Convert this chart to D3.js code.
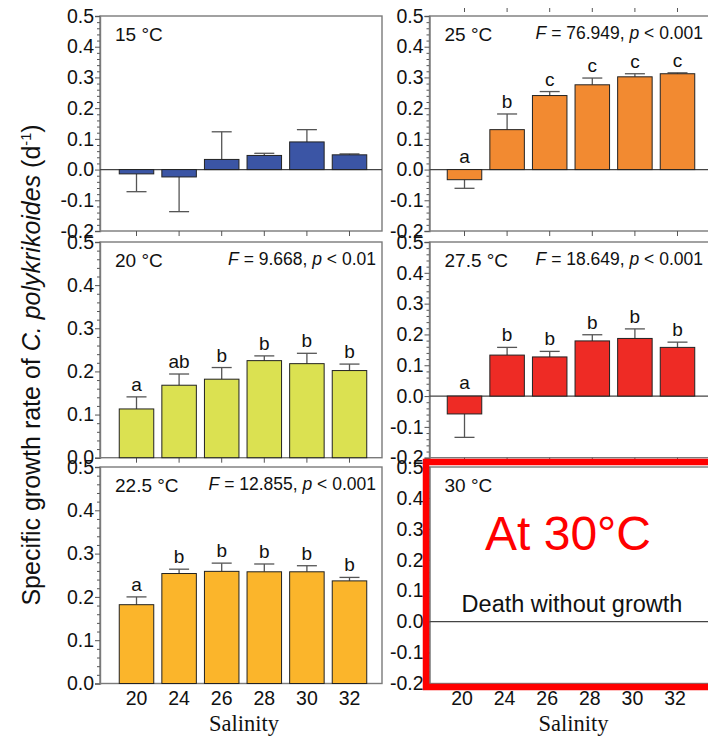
<!DOCTYPE html>
<html><head><meta charset="utf-8">
<script src="https://cdn.jsdelivr.net/npm/d3@7"></script>
<style>
body{margin:0;background:#fff}
svg{display:block}
text{font-family:"Liberation Sans",Arial,sans-serif;fill:#111}
</style>
</head><body><svg id="c" width="708" height="738"></svg>
<script>
// ---------- data ----------
const salinity = ["20","24","26","28","30","32"];
const mean15   = [-0.014,-0.024,0.033,0.046,0.090,0.048];
const err15    = [0.058,0.113,0.090,0.007,0.040,0.003];
const mean20   = [0.113,0.168,0.182,0.225,0.218,0.202];
const err20    = [0.028,0.026,0.027,0.011,0.024,0.015];
const let20    = ["a","ab","b","b","b","b"];
const mean22_5 = [0.182,0.254,0.259,0.258,0.258,0.237];
const err22_5  = [0.018,0.010,0.019,0.018,0.014,0.008];
const let22_5  = ["a","b","b","b","b","b"];
const mean25   = [-0.033,0.130,0.241,0.276,0.302,0.312];
const err25    = [0.028,0.051,0.013,0.022,0.010,0.003];
const let25    = ["a","b","c","c","c","c"];
const mean27_5 = [-0.058,0.133,0.127,0.179,0.187,0.158];
const err27_5  = [0.076,0.025,0.018,0.020,0.031,0.017];
const let27_5  = ["a","b","b","b","b","b"];
const ticksFull = [-0.2,-0.1,0.0,0.1,0.2,0.3,0.4,0.5];
const ticksPos  = [0.0,0.1,0.2,0.3,0.4,0.5];

const panels = [
  {col:0,row:0,dom:[-0.2,0.5],ticks:ticksFull,label:"15 °C",stat:null,color:"#3b55a5",mean:mean15,err:err15,letters:null},
  {col:1,row:0,dom:[-0.2,0.5],ticks:ticksFull,label:"25 °C",stat:["76.949","0.001"],color:"#f28a31",mean:mean25,err:err25,letters:let25},
  {col:0,row:1,dom:[0,0.5],ticks:ticksPos,label:"20 °C",stat:["9.668","0.01"],color:"#dbe151",mean:mean20,err:err20,letters:let20},
  {col:1,row:1,dom:[-0.2,0.5],ticks:ticksFull,label:"27.5 °C",stat:["18.649","0.001"],color:"#ee2b25",mean:mean27_5,err:err27_5,letters:let27_5},
  {col:0,row:2,dom:[0,0.5],ticks:ticksPos,label:"22.5 °C",stat:["12.855","0.001"],color:"#fbb52b",mean:mean22_5,err:err22_5,letters:let22_5},
  {col:1,row:2,dom:[-0.2,0.5],ticks:ticksFull,label:"30 °C",stat:null,color:null,mean:null,err:null,letters:null}
];

// ---------- layout ----------
const colX = [[100,382],[429.5,711.5]];
const bandX = [[102,384],[430,712]];
const rowY = [[16,231],[242,457.7],[467,683.5]];
const frameCol = "#7a7a7a";
const SANS = "'Liberation Sans', Arial, sans-serif";

const svg = d3.select("#c");

panels.forEach(p=>{
  const [x0,x1] = colX[p.col];
  const [y0,y1] = rowY[p.row];
  const g = svg.append("g");
  const br = (p.col===1 && p.row===2) ? [bandX[1][0]-2.5, bandX[1][1]-2.5] : bandX[p.col];
  const x = d3.scaleBand().domain(salinity).range(br).paddingInner(0.19).paddingOuter(0.405);
  const y = d3.scaleLinear().domain(p.dom).range([y1,y0]);

  g.append("rect").attr("x",x0).attr("y",y0).attr("width",x1-x0).attr("height",y1-y0)
    .attr("fill","#fff").attr("stroke",frameCol).attr("stroke-width",1.4);

  // minor ticks
  const minor = d3.range(Math.round(p.dom[0]*50), Math.round(p.dom[1]*50)+1).map(d=>d/50).filter(d=>Math.abs(Math.round(d*10)-d*10)>1e-6);
  g.append("g").attr("transform",`translate(${x0},0)`)
    .call(d3.axisLeft(y).tickValues(minor).tickSize(3).tickFormat(""))
    .call(a=>a.select(".domain").remove())
    .selectAll("line").attr("stroke","#555");
  // major ticks
  const ya = g.append("g").attr("transform",`translate(${x0},0)`)
    .call(d3.axisLeft(y).tickValues(p.ticks).tickSize(5).tickPadding(1).tickFormat(d=>d.toFixed(1)));
  ya.select(".domain").attr("stroke",frameCol).attr("stroke-width",1.4);
  ya.selectAll("line").attr("stroke","#555");
  ya.selectAll("text").attr("font-size",19.5).style("fill","#111").style("font-family",SANS);

  // x ticks
  const xa = g.append("g").attr("transform",`translate(0,${y1})`);
  if(p.row<2){
    xa.call(d3.axisBottom(x).tickSize(5).tickFormat(""));
    xa.select(".domain").remove();
    xa.selectAll("line").attr("stroke","#555");
  } else {
    xa.call(d3.axisBottom(x).tickSize(0).tickPadding(8));
    xa.select(".domain").remove();
    xa.selectAll("text").attr("font-size",19.5).style("fill","#111").style("font-family",SANS);
    g.append("text").attr("x",(x0+x1)/2+3).attr("y",731).attr("text-anchor","middle")
      .style("font-family","'Liberation Serif','Times New Roman',serif").attr("font-size",22.5).text("Salinity");
  }

  // zero line
  if(p.dom[0]<0){
    g.append("line").attr("x1",x0).attr("x2",x1).attr("y1",y(0)).attr("y2",y(0))
      .attr("stroke","#444").attr("stroke-width",1.2);
  }

  if(p.mean){
    const data = salinity.map((s,i)=>({s,v:p.mean[i],e:p.err[i],l:p.letters?p.letters[i]:null}));
    // error bars
    const eg = g.append("g").attr("stroke","#555").attr("stroke-width",1.3);
    data.forEach(d=>{
      const cx = x(d.s)+x.bandwidth()/2;
      const end = d.v>=0 ? d.v+d.e : d.v-d.e;
      eg.append("line").attr("x1",cx).attr("x2",cx).attr("y1",y(d.v)).attr("y2",y(end));
      eg.append("line").attr("x1",cx-10).attr("x2",cx+10).attr("y1",y(end)).attr("y2",y(end));
    });
    g.append("g").selectAll("rect").data(data).join("rect")
      .attr("x",d=>x(d.s)).attr("width",x.bandwidth())
      .attr("y",d=>y(Math.max(0,d.v))).attr("height",d=>Math.abs(y(d.v)-y(0)))
      .attr("fill",p.color).attr("stroke","#222").attr("stroke-width",1);
    if(p.letters){
      g.append("g").selectAll("text").data(data).join("text")
        .attr("x",d=>x(d.s)+x.bandwidth()/2)
        .attr("y",d=> d.v>=0 ? y(d.v+d.e)-6 : y(0)-7)
        .attr("text-anchor","middle").attr("font-size",19).text(d=>d.l);
    }
  }

  // panel label
  g.append("text").attr("x",x0+15).attr("y",y0+25).attr("font-size",19).text(p.label);
  if(p.stat){
    const t = g.append("text").attr("x",(p.col===0?x1-6:703)).attr("y",y0+23).attr("text-anchor","end").attr("font-size",17.5);
    t.append("tspan").style("font-style","italic").text("F");
    t.append("tspan").text(" = "+p.stat[0]+", ");
    t.append("tspan").style("font-style","italic").text("p");
    t.append("tspan").text(" < "+p.stat[1]);
  }

  // 30 °C special content
  if(!p.mean){
    g.append("text").attr("x",568).attr("y",550).attr("text-anchor","middle")
      .attr("font-size",48).style("fill","#ff0000").text("At 30°C");
    g.append("text").attr("x",572).attr("y",612).attr("text-anchor","middle")
      .attr("font-size",23.5).text("Death without growth");
    svg.append("rect").attr("x",426).attr("y",462).attr("width",310).attr("height",225)
      .attr("fill","none").attr("stroke","#ff0000").attr("stroke-width",6.5);
  }
});

// ticks of the cropped panel above the 25 °C panel
const xTop = d3.scaleBand().domain(salinity).range(bandX[1]).paddingInner(0.19).paddingOuter(0.405);
svg.append("g").attr("transform","translate(0,8)")
  .call(d3.axisBottom(xTop).tickSize(4).tickFormat(""))
  .call(a=>a.select(".domain").remove())
  .selectAll("line").attr("stroke","#555");

// y axis title
const yt = svg.append("text").attr("transform","translate(40,365) rotate(-90)")
  .attr("text-anchor","middle").attr("font-size",25);
yt.append("tspan").text("Specific growth rate of ");
yt.append("tspan").style("font-style","italic").text("C. polykrikoides");
yt.append("tspan").text(" (d");
yt.append("tspan").attr("font-size",14.5).attr("dy",-9).text("-1");
yt.append("tspan").attr("dy",9).text(")");
</script>
</body></html>
